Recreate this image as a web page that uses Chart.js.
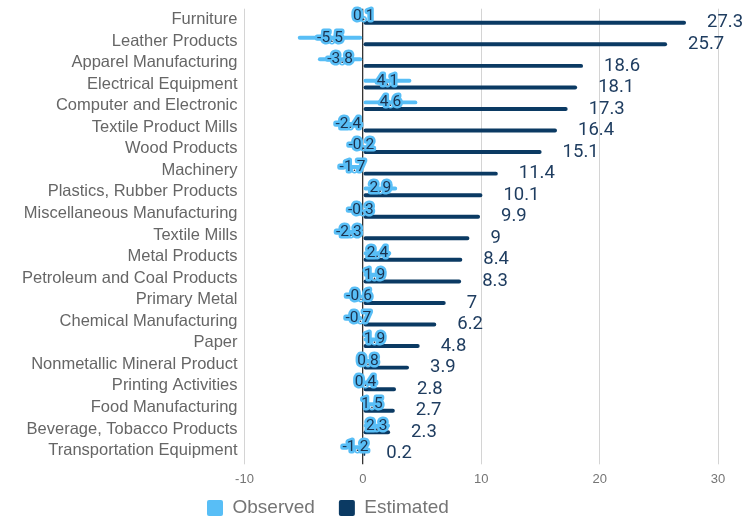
<!DOCTYPE html>
<html><head><meta charset="utf-8">
<script src="https://cdn.jsdelivr.net/npm/chart.js@4"></script>
<style>html,body{margin:0;padding:0;background:#fff}</style>
</head><body>
<canvas id="c" width="751" height="518" style="display:block;width:751px;height:518px"></canvas>
<script>
const categories = ["Furniture","Leather Products","Apparel Manufacturing","Electrical Equipment","Computer and Electronic","Textile Product Mills","Wood Products","Machinery","Plastics, Rubber Products","Miscellaneous Manufacturing","Textile Mills","Metal Products","Petroleum and Coal Products","Primary Metal","Chemical Manufacturing","Paper","Nonmetallic Mineral Product","Printing Activities","Food Manufacturing","Beverage, Tobacco Products","Transportation Equipment"];
const observed = [0.1,-5.5,-3.8,4.1,4.6,-2.4,-0.2,-1.7,2.9,-0.3,-2.3,2.4,1.9,-0.6,-0.7,1.9,0.8,0.4,1.5,2.3,-1.2];
const estimated = [27.3,25.7,18.6,18.1,17.3,16.4,15.1,11.4,10.1,9.9,9,8.4,8.3,7,6.2,4.8,3.9,2.8,2.7,2.3,0.2];
const xTicks = [-10,0,10,20,30];

const OBS_COLOR = '#58BEF6';
const EST_COLOR = '#0B3A63';

const valueLabels = {
  id: 'valueLabels',
  afterDatasetsDraw(chart) {
    const ctx = chart.ctx;
    ctx.save();
    chart.data.datasets.forEach((ds, di) => {
      const meta = chart.getDatasetMeta(di);
      meta.data.forEach((bar, i) => {
        const v = ds.data[i];
        const txt = String(v);
        if (di === 0) {
          const cx = (bar.x + bar.base) / 2;
          ctx.font = '15.5px Roboto';
          ctx.textAlign = 'center';
          ctx.textBaseline = 'middle';
          ctx.lineJoin = 'round';
          ctx.lineWidth = 5;
          ctx.strokeStyle = OBS_COLOR;
          ctx.strokeText(txt, cx, bar.y);
          ctx.fillStyle = '#1B3350';
          ctx.fillText(txt, cx, bar.y);
        } else {
          const ex = Math.max(bar.x, bar.base) + 21;
          ctx.font = '18.5px Roboto';
          ctx.textAlign = 'left';
          ctx.textBaseline = 'middle';
          ctx.fillStyle = '#1F3D60';
          ctx.fillText(txt, ex, bar.y);
        }
      });
    });
    ctx.restore();
  }
};

const legendPlace = {
  id: 'legendPlace',
  afterLayout(chart) {
    const lg = chart.legend;
    if (!lg) return;
    const pad = lg.options.labels.padding;
    const w = lg.right - lg.left, h = lg.bottom - lg.top;
    lg.left = 207 - pad; lg.right = lg.left + w;
    lg.top = 474.5; lg.bottom = lg.top + h;
  }
};

new Chart(document.getElementById('c'), {
  type: 'bar',
  data: {
    labels: categories,
    datasets: [
      { label: 'Observed', data: observed, backgroundColor: OBS_COLOR, borderRadius: 2, borderSkipped: false, categoryPercentage: 0.6125, barPercentage: 0.6 },
      { label: 'Estimated', data: estimated, backgroundColor: EST_COLOR, borderRadius: 2, borderSkipped: false, categoryPercentage: 0.6125, barPercentage: 0.6 }
    ]
  },
  options: {
    indexAxis: 'y',
    responsive: false,
    animation: false,
    devicePixelRatio: 1,
    layout: { padding: { top: 8.7, right: 33, left: 0, bottom: -26.3 } },
    scales: {
      x: {
        min: -10, max: 30,
        afterBuildTicks: s => { s.ticks = xTicks.map(v => ({ value: v })); },
        afterFit: s => { s.height = 30; },
        border: { display: false },
        grid: {
          color: c => (c.tick && c.tick.value === 0) ? '#333333' : '#d4d4d4',
          lineWidth: c => (c.tick && c.tick.value === 0) ? 1.3 : 1,
          drawTicks: true, tickLength: 3
        },
        ticks: { padding: 7, color: '#757575', font: { family: '"Liberation Sans", Arial, sans-serif', size: 13 } }
      },
      y: {
        afterFit: s => { s.width = 244.5; s.paddingTop = 0; s.paddingBottom = 0; },
        border: { display: false },
        grid: { display: false, drawTicks: false },
        ticks: { padding: 7, color: '#666666', autoSkip: false, font: { family: '"Liberation Sans", Arial, sans-serif', size: 16.5 } }
      }
    },
    plugins: {
      legend: {
        position: 'bottom',
        align: 'start',
        labels: {
          boxWidth: 16, boxHeight: 16, padding: 24, useBorderRadius: true, borderRadius: 2,
          color: '#757575', font: { family: '"Liberation Sans", Arial, sans-serif', size: 19 }
        }
      },
      tooltip: { enabled: false }
    }
  },
  plugins: [valueLabels, legendPlace]
});
</script>
</body></html>
